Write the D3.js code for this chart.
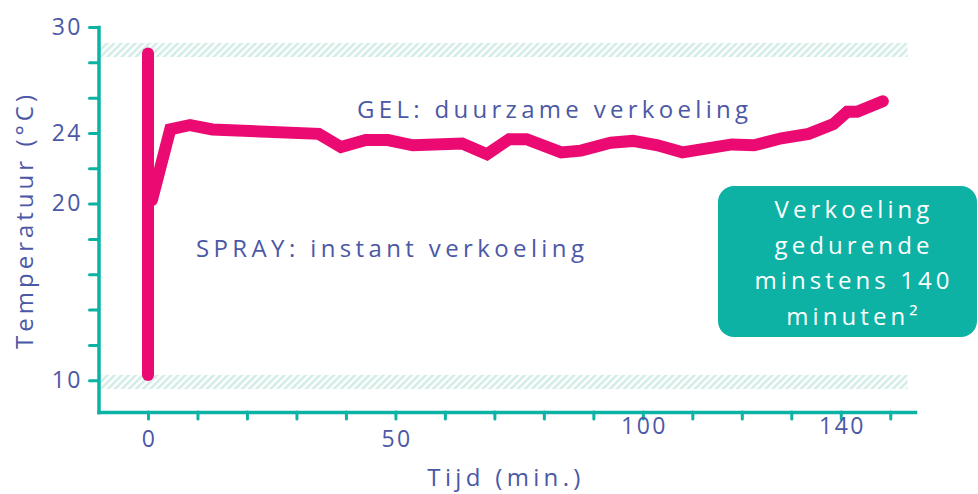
<!DOCTYPE html>
<html>
<head>
<meta charset="utf-8">
<script src="https://cdn.jsdelivr.net/npm/d3@7"></script>
<style>
  html, body { margin: 0; padding: 0; background: #ffffff; }
  svg text { font-family: "Open Sans", "Noto Sans", sans-serif; }
</style>
</head>
<body>
<div id="chart"></div>
<script>
// time (min.) and temperature (°C)
var sprayTime = [0, 0];
var sprayTemp = [28.5, 10.3];

var gelTime = [0.8, 4.5, 8.5, 13, 34.5, 39, 44, 48.5, 53.5, 63.5, 68.5, 73, 76.5, 83.5, 87.5,
               93.5, 98, 103, 108, 118, 122.5, 128, 133.5, 138.5, 141.3, 143.3, 148.5];
var gelTemp = [20.2, 24.2, 24.45, 24.2, 23.95, 23.2, 23.6, 23.6, 23.3, 23.4, 22.8, 23.65, 23.65, 22.9, 23.0,
               23.45, 23.55, 23.3, 22.9, 23.35, 23.3, 23.7, 23.95, 24.5, 25.2, 25.2, 25.8];

// hatched comfort bands (low / high temperature of each band)
var bandLow = [28.3, 9.5];
var bandHigh = [29.1, 10.3];
var bandEndTime = 153.5;

var yTicks = [10, 12, 14, 16, 18, 20, 22, 24, 26, 28, 30];
var yLabels = [10, 20, 24, 30];
var xTicks = [0, 10, 20, 30, 40, 50, 60, 70, 80, 90, 100, 110, 120, 130, 140, 150];
var xLabels = [0, 50, 100, 140];

var cfg = {
  w: 978,
  h: 494,
  teal: "#0cb3a4",
  pink: "#eb0a72",
  ink: "#4b58a6",
  hatch: "#d3ece7",
  box: "#0db2a5"
};

var svg = d3.select("#chart").append("svg")
  .attr("width", cfg.w)
  .attr("height", cfg.h);

var x = d3.scaleLinear().domain([-10, 155]).range([98.5, 915]);
var y = d3.scaleLinear().domain([8.2, 30]).range([412, 27]);

// hatch pattern for the bands
var defs = svg.append("defs");
var pat = defs.append("pattern")
  .attr("id", "hatch")
  .attr("patternUnits", "userSpaceOnUse")
  .attr("width", 5)
  .attr("height", 5)
  .attr("patternTransform", "rotate(45)");
pat.append("rect")
  .attr("width", 2.6)
  .attr("height", 5)
  .attr("fill", cfg.hatch);

svg.selectAll(".band")
  .data(bandLow)
  .enter().append("rect")
  .attr("class", "band")
  .attr("x", x.range()[0] + 2)
  .attr("width", x(bandEndTime) - x.range()[0] - 2)
  .attr("y", function(d, i) { return y(bandHigh[i]); })
  .attr("height", function(d, i) { return y(bandLow[i]) - y(bandHigh[i]); })
  .attr("fill", "url(#hatch)");

// fit letter-spacing so a text spans the width it has in the picture
function fitWidth(sel, width) {
  sel.each(function() {
    var n = this.getNumberOfChars();
    var natural = this.getComputedTextLength();
    this.setAttribute("letter-spacing", ((width - natural) / (n - 1)).toFixed(2));
  });
}

/////////////////// axes ///////////////////
var yAxis = d3.axisLeft(y)
  .tickValues(yTicks)
  .tickSize(9)
  .tickSizeOuter(0)
  .tickPadding(9)
  .tickFormat(function(d) { return yLabels.indexOf(d) >= 0 ? d : ""; });

var gy = svg.append("g")
  .attr("transform", "translate(" + x.range()[0] + ",0)")
  .call(yAxis);

var xAxis = d3.axisBottom(x)
  .tickValues(xTicks)
  .tickSize(7)
  .tickSizeOuter(0)
  .tickPadding(10)
  .tickFormat(function(d) { return xLabels.indexOf(d) >= 0 ? d : ""; });

var gx = svg.append("g")
  .attr("transform", "translate(0," + y.range()[0] + ")")
  .call(xAxis);

[gx, gy].forEach(function(g) {
  g.select(".domain")
    .attr("stroke", cfg.teal)
    .attr("stroke-width", 3.5)
    .attr("stroke-linecap", "square");
  g.selectAll(".tick line")
    .attr("stroke", cfg.teal)
    .attr("stroke-width", 3)
    .attr("stroke-linecap", "round");
  g.selectAll(".tick text")
    .attr("fill", cfg.ink)
    .attr("font-size", 23)
    .attr("letter-spacing", 2.5)
    .style("font-family", '"Open Sans", "Noto Sans", sans-serif');
});
gy.selectAll(".tick text").attr("dx", 2.5);
// the 100 and 140 labels sit higher, right under the axis
gx.selectAll(".tick text")
  .attr("dy", function(d) { return d >= 100 ? "0.2em" : "0.8em"; })
  .attr("dx", 1.2);

// axis titles
var yTitle = svg.append("text")
  .attr("transform", "translate(33,220) rotate(-90)")
  .attr("text-anchor", "middle")
  .attr("font-size", 24)
  .attr("fill", cfg.ink)
  .text("Temperatuur (°C)");
fitWidth(yTitle, 254);

var xTitle = svg.append("text")
  .attr("x", 506)
  .attr("y", 486)
  .attr("text-anchor", "middle")
  .attr("font-size", 24)
  .attr("fill", cfg.ink)
  .text("Tijd (min.)");
fitWidth(xTitle, 153);

/////////////////// lines ///////////////////
var line = d3.line()
  .x(function(d) { return x(d[0]); })
  .y(function(d) { return y(d[1]); });

var spray = d3.zip(sprayTime, sprayTemp);
var gel = d3.zip(gelTime, gelTemp);

svg.selectAll(".series")
  .data([spray, gel])
  .enter().append("path")
  .attr("class", "series")
  .attr("d", line)
  .attr("fill", "none")
  .attr("stroke", cfg.pink)
  .attr("stroke-width", 12)
  .attr("stroke-linecap", "round")
  .attr("stroke-linejoin", "miter");

/////////////////// annotations ///////////////////
var gelLabel = svg.append("text")
  .attr("x", 357)
  .attr("y", 118)
  .attr("font-size", 24)
  .attr("fill", cfg.ink)
  .text("GEL: duurzame verkoeling");
fitWidth(gelLabel, 391);

var sprayLabel = svg.append("text")
  .attr("x", 196)
  .attr("y", 257)
  .attr("font-size", 24)
  .attr("fill", cfg.ink)
  .text("SPRAY: instant verkoeling");
fitWidth(sprayLabel, 388);

// info box
svg.append("rect")
  .attr("x", 718)
  .attr("y", 186)
  .attr("width", 259)
  .attr("height", 151)
  .attr("rx", 16)
  .attr("fill", cfg.box);

var boxLines = ["Verkoeling", "gedurende", "minstens 140", "minuten²"];
var boxText = svg.append("text")
  .attr("text-anchor", "middle")
  .attr("font-size", 24)
  .attr("fill", "#ffffff");
boxText.selectAll("tspan")
  .data(boxLines)
  .enter().append("tspan")
  .attr("x", 852)
  .attr("y", function(d, i) { return 218 + i * 35.5; })
  .text(function(d) { return d; });

// same spacing on every line, taken from the widest one
var probe = svg.append("text").attr("font-size", 24).text(boxLines[2]);
var ls = (195 - probe.node().getComputedTextLength()) / (boxLines[2].length - 1);
probe.remove();
boxText.attr("letter-spacing", ls.toFixed(2));
boxText.selectAll("tspan").attr("dx", (ls / 2).toFixed(2));
</script>
</body>
</html>
